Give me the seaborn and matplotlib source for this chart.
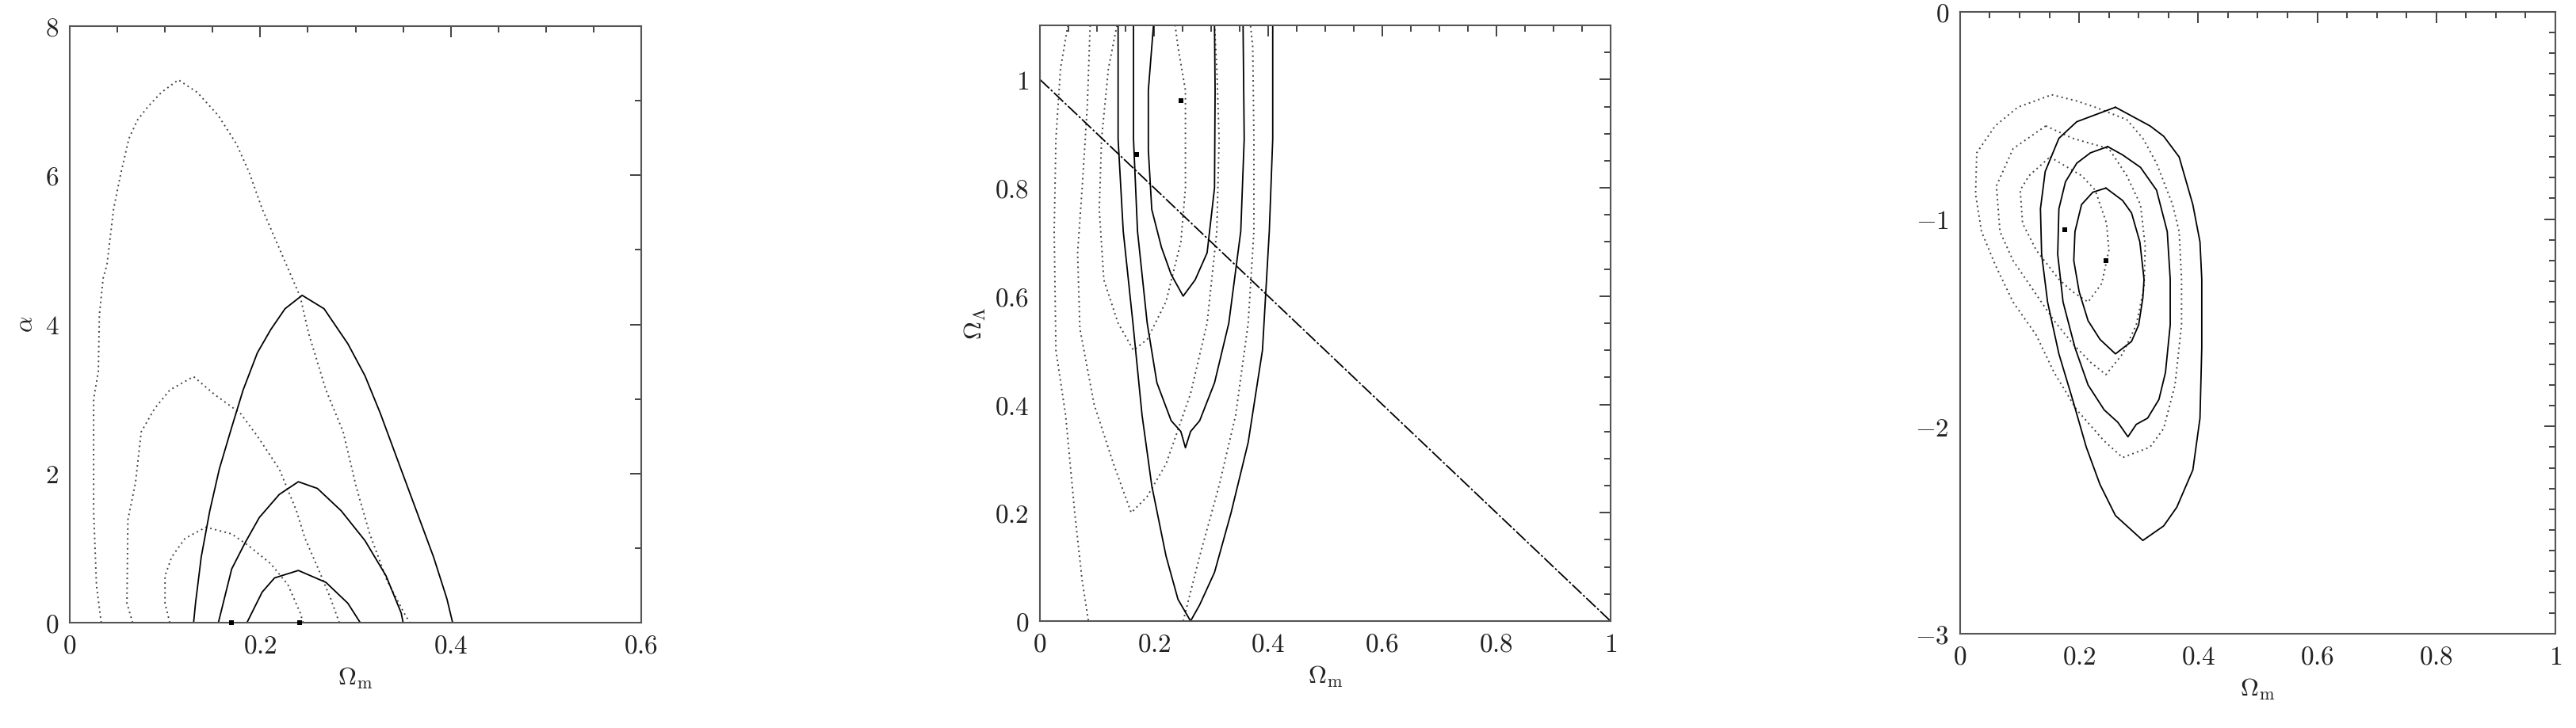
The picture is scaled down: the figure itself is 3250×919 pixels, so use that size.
import numpy as np
import pandas as pd
import seaborn as sns
import matplotlib.pyplot as plt
from matplotlib.ticker import MultipleLocator, FuncFormatter

sns.set_style("white")
plt.rcParams['font.family'] = ['DejaVu Serif']
plt.rcParams['mathtext.fontset'] = 'cm'

# ---------------- panel 1: alpha vs Omega_m ----------------
p1_sol1_x = [0.130, 0.132, 0.138, 0.147, 0.157, 0.170, 0.182, 0.197, 0.211, 0.226, 0.244,
             0.267, 0.292, 0.310, 0.326, 0.346, 0.364, 0.382, 0.396, 0.402]
p1_sol1_y = [0, 0.26, 0.88, 1.50, 2.06, 2.62, 3.12, 3.62, 3.93, 4.21, 4.39,
             4.21, 3.74, 3.31, 2.81, 2.12, 1.50, 0.88, 0.32, 0]
p1_sol2_x = [0.156, 0.170, 0.184, 0.199, 0.220, 0.240, 0.260, 0.285, 0.310, 0.332, 0.348, 0.350]
p1_sol2_y = [0, 0.72, 1.07, 1.41, 1.72, 1.89, 1.80, 1.50, 1.10, 0.63, 0.13, 0]
p1_sol3_x = [0.186, 0.202, 0.215, 0.240, 0.269, 0.292, 0.305]
p1_sol3_y = [0, 0.41, 0.60, 0.70, 0.54, 0.26, 0]

p1_dot1_x = [0.033, 0.028, 0.025, 0.025, 0.030, 0.031, 0.035, 0.039, 0.046, 0.053, 0.062, 0.071,
             0.082, 0.096, 0.114, 0.134, 0.156, 0.175, 0.188, 0.202, 0.222, 0.242, 0.251, 0.269,
             0.287, 0.301, 0.315, 0.333, 0.351, 0.357]
p1_dot1_y = [0, 0.5, 1.5, 3.0, 3.37, 4.12, 4.62, 4.80, 5.55, 5.99, 6.49, 6.74,
             6.92, 7.11, 7.28, 7.11, 6.80, 6.42, 6.05, 5.55, 4.96, 4.37, 3.87, 3.12,
             2.56, 1.81, 1.19, 0.57, 0.13, 0]
p1_dot2_x = [0.066, 0.060, 0.061, 0.069, 0.075, 0.089, 0.105, 0.130, 0.152, 0.179, 0.197,
             0.220, 0.238, 0.247, 0.260, 0.274, 0.283]
p1_dot2_y = [0, 0.26, 1.38, 1.88, 2.56, 2.87, 3.12, 3.30, 3.06, 2.81, 2.50,
             2.06, 1.50, 1.13, 0.75, 0.32, 0]
p1_dot3_x = [0.105, 0.100, 0.100, 0.107, 0.121, 0.143, 0.170, 0.188, 0.211, 0.229, 0.242, 0.245]
p1_dot3_y = [0, 0.26, 0.63, 0.88, 1.13, 1.28, 1.19, 1.03, 0.79, 0.51, 0.13, 0]
p1_best_x = [0.170, 0.241]
p1_best_y = [0, 0]

# ---------------- panel 2: Omega_L vs Omega_m ----------------
p2_sol1_x = [0.137, 0.137, 0.146, 0.163, 0.179, 0.196, 0.221, 0.242, 0.264, 0.280, 0.306,
             0.335, 0.365, 0.390, 0.402, 0.408, 0.408]
p2_sol1_y = [1.1, 0.89, 0.72, 0.55, 0.38, 0.25, 0.12, 0.04, 0, 0.03, 0.09,
             0.20, 0.33, 0.50, 0.72, 0.89, 1.1]
p2_sol2_x = [0.164, 0.164, 0.171, 0.188, 0.205, 0.230, 0.247, 0.255, 0.264, 0.280, 0.306,
             0.331, 0.352, 0.358, 0.356]
p2_sol2_y = [1.1, 0.89, 0.72, 0.55, 0.44, 0.37, 0.35, 0.32, 0.35, 0.37, 0.44,
             0.55, 0.72, 0.89, 1.1]
p2_sol3_x = [0.199, 0.190, 0.190, 0.196, 0.213, 0.230, 0.251, 0.272, 0.293, 0.306, 0.307, 0.306]
p2_sol3_y = [1.1, 0.98, 0.87, 0.76, 0.69, 0.64, 0.60, 0.63, 0.68, 0.80, 0.98, 1.1]

p2_dot1a_x = [0.049, 0.036, 0.028, 0.025, 0.028, 0.045, 0.061, 0.074, 0.085]
p2_dot1a_y = [1.1, 1.02, 0.89, 0.72, 0.50, 0.38, 0.20, 0.075, 0]
p2_dot1b_x = [0.251, 0.280, 0.314, 0.343, 0.365, 0.375, 0.375, 0.373, 0.369]
p2_dot1b_y = [0, 0.12, 0.25, 0.38, 0.55, 0.72, 0.89, 1.06, 1.1]
p2_dot2_x = [0.088, 0.083, 0.074, 0.066, 0.070, 0.095, 0.129, 0.160, 0.188, 0.221, 0.264,
             0.293, 0.310, 0.314, 0.310, 0.306]
p2_dot2_y = [1.1, 0.95, 0.80, 0.68, 0.54, 0.40, 0.29, 0.20, 0.23, 0.29, 0.42,
             0.55, 0.72, 0.89, 1.02, 1.1]
p2_dot3_x = [0.135, 0.120, 0.108, 0.104, 0.112, 0.137, 0.164, 0.188, 0.221, 0.247, 0.255,
             0.255, 0.242, 0.237]
p2_dot3_y = [1.1, 1.02, 0.89, 0.76, 0.63, 0.55, 0.50, 0.52, 0.59, 0.70, 0.80,
             0.98, 1.06, 1.1]
p2_flat_x = [0, 1]
p2_flat_y = [1, 0]
p2_best_x = [0.247, 0.170]
p2_best_y = [0.961, 0.861]

# ---------------- panel 3: w vs Omega_m ----------------
p3_sol1_x = [0.261, 0.319, 0.342, 0.368, 0.391, 0.403, 0.406, 0.406, 0.403, 0.391, 0.364,
             0.342, 0.307, 0.261, 0.235, 0.212, 0.189, 0.166, 0.147, 0.137, 0.135, 0.143,
             0.166, 0.196, 0.261]
p3_sol1_y = [-0.46, -0.55, -0.60, -0.70, -0.93, -1.11, -1.29, -1.62, -1.96, -2.21, -2.39,
             -2.48, -2.55, -2.43, -2.28, -2.10, -1.87, -1.65, -1.40, -1.17, -0.95, -0.77,
             -0.61, -0.53, -0.46]
p3_sol2_x = [0.248, 0.273, 0.303, 0.330, 0.348, 0.353, 0.353, 0.345, 0.334, 0.315, 0.296,
             0.282, 0.265, 0.242, 0.215, 0.193, 0.173, 0.164, 0.166, 0.177, 0.196, 0.219, 0.248]
p3_sol2_y = [-0.65, -0.69, -0.75, -0.86, -1.06, -1.29, -1.51, -1.74, -1.87, -1.96, -1.99,
             -2.05, -1.98, -1.92, -1.80, -1.62, -1.40, -1.17, -0.95, -0.82, -0.73, -0.68, -0.65]
p3_sol3_x = [0.245, 0.273, 0.288, 0.302, 0.309, 0.307, 0.300, 0.288, 0.261, 0.235, 0.215,
             0.200, 0.191, 0.193, 0.204, 0.223, 0.245]
p3_sol3_y = [-0.85, -0.91, -0.97, -1.11, -1.29, -1.38, -1.51, -1.59, -1.65, -1.58, -1.49,
             -1.35, -1.20, -1.06, -0.93, -0.87, -0.85]

p3_dot1_x = [0.154, 0.196, 0.227, 0.280, 0.307, 0.330, 0.357, 0.368, 0.372, 0.372, 0.361,
             0.342, 0.319, 0.273, 0.242, 0.196, 0.158, 0.128, 0.089, 0.059, 0.036, 0.026,
             0.028, 0.059, 0.097, 0.154]
p3_dot1_y = [-0.40, -0.43, -0.46, -0.52, -0.61, -0.73, -0.93, -1.06, -1.29, -1.51, -1.80,
             -2.01, -2.10, -2.15, -2.07, -1.92, -1.74, -1.56, -1.40, -1.22, -1.06, -0.88,
             -0.68, -0.55, -0.46, -0.40]
p3_dot2_x = [0.144, 0.189, 0.250, 0.280, 0.303, 0.311, 0.309, 0.296, 0.273, 0.245, 0.219,
             0.189, 0.158, 0.120, 0.089, 0.067, 0.061, 0.089, 0.144]
p3_dot2_y = [-0.55, -0.61, -0.66, -0.79, -0.93, -1.13, -1.33, -1.51, -1.65, -1.75, -1.69,
             -1.60, -1.49, -1.33, -1.20, -1.06, -0.84, -0.66, -0.55]
p3_dot3_x = [0.151, 0.204, 0.227, 0.246, 0.250, 0.238, 0.215, 0.189, 0.166, 0.128, 0.105,
             0.101, 0.116, 0.151]
p3_dot3_y = [-0.70, -0.79, -0.86, -1.02, -1.15, -1.31, -1.40, -1.35, -1.29, -1.15, -1.02,
             -0.86, -0.79, -0.70]
p3_best_x = [0.176, 0.245]
p3_best_y = [-1.05, -1.20]

solid_kw = dict(color='black', lw=1.3)
dot_kw = dict(color='#444444', lw=1.4, linestyle=(0, (1, 2.2)))


def line(ax, x, y, kw):
    sns.lineplot(x=x, y=y, sort=False, estimator=None, ax=ax, **kw)


def fmt(v, pos):
    # tick labels drawn with the cm math font, like the thin roman digits of the original
    return "$" + f"{v:g}" + "$"


def style_axes(ax, xlim, ylim, xmaj, xmin, ymaj, ymin):
    ax.set_xlim(*xlim)
    ax.set_ylim(*ylim)
    ax.xaxis.set_major_locator(MultipleLocator(xmaj))
    ax.xaxis.set_minor_locator(MultipleLocator(xmin))
    ax.yaxis.set_major_locator(MultipleLocator(ymaj))
    ax.yaxis.set_minor_locator(MultipleLocator(ymin))
    ax.xaxis.set_major_formatter(FuncFormatter(fmt))
    ax.yaxis.set_major_formatter(FuncFormatter(fmt))
    ax.tick_params(which='both', direction='in', top=True, right=True,
                   color='#333333', labelcolor='#222222', labelsize=24, width=1.3)
    ax.tick_params(which='major', length=10, pad=10)
    ax.tick_params(which='minor', length=6)
    for s in ax.spines.values():
        s.set_color('#555555')
        s.set_linewidth(1.5)
    ax.set_xlabel(r'$\Omega_{\rm m}$', fontsize=23, color='#222222', labelpad=6)


fig = plt.figure(figsize=(32.5, 9.19), dpi=100)
ax1 = fig.add_axes([0.0271, 0.1447, 0.2218, 0.8194])
ax2 = fig.add_axes([0.4037, 0.1469, 0.2215, 0.8183])
ax3 = fig.add_axes([0.7609, 0.1295, 0.2311, 0.8542])

# panel 1
for x, y in [(p1_dot1_x, p1_dot1_y), (p1_dot2_x, p1_dot2_y), (p1_dot3_x, p1_dot3_y)]:
    line(ax1, x, y, dot_kw)
for x, y in [(p1_sol1_x, p1_sol1_y), (p1_sol2_x, p1_sol2_y), (p1_sol3_x, p1_sol3_y)]:
    line(ax1, x, y, solid_kw)
sns.scatterplot(x=p1_best_x, y=p1_best_y, marker='s', s=16, color='black',
                linewidth=0, ax=ax1, clip_on=False, zorder=5)
style_axes(ax1, (0, 0.6), (0, 8), 0.2, 0.05, 2, 1)
ax1.set_ylabel(r'$\alpha$', fontsize=23, color='#222222', labelpad=6)

# panel 2
for x, y in [(p2_dot1a_x, p2_dot1a_y), (p2_dot1b_x, p2_dot1b_y),
             (p2_dot2_x, p2_dot2_y), (p2_dot3_x, p2_dot3_y)]:
    line(ax2, x, y, dot_kw)
for x, y in [(p2_sol1_x, p2_sol1_y), (p2_sol2_x, p2_sol2_y), (p2_sol3_x, p2_sol3_y)]:
    line(ax2, x, y, solid_kw)
line(ax2, p2_flat_x, p2_flat_y, dict(color='black', lw=1.3, linestyle=(0, (9, 1.5, 1.5, 1.5))))
sns.scatterplot(x=p2_best_x, y=p2_best_y, marker='s', s=16, color='black',
                linewidth=0, ax=ax2, zorder=5)
style_axes(ax2, (0, 1), (0, 1.1), 0.2, 0.05, 0.2, 0.05)
ax2.set_ylabel(r'$\Omega_\Lambda$', fontsize=23, color='#222222', labelpad=6)

# panel 3
for x, y in [(p3_dot1_x, p3_dot1_y), (p3_dot2_x, p3_dot2_y), (p3_dot3_x, p3_dot3_y)]:
    line(ax3, x, y, dot_kw)
for x, y in [(p3_sol1_x, p3_sol1_y), (p3_sol2_x, p3_sol2_y), (p3_sol3_x, p3_sol3_y)]:
    line(ax3, x, y, solid_kw)
sns.scatterplot(x=p3_best_x, y=p3_best_y, marker='s', s=16, color='black',
                linewidth=0, ax=ax3, zorder=5)
style_axes(ax3, (0, 1), (-3, 0), 0.2, 0.05, 1, 0.1)

fig.savefig('out.png', dpi=100)
